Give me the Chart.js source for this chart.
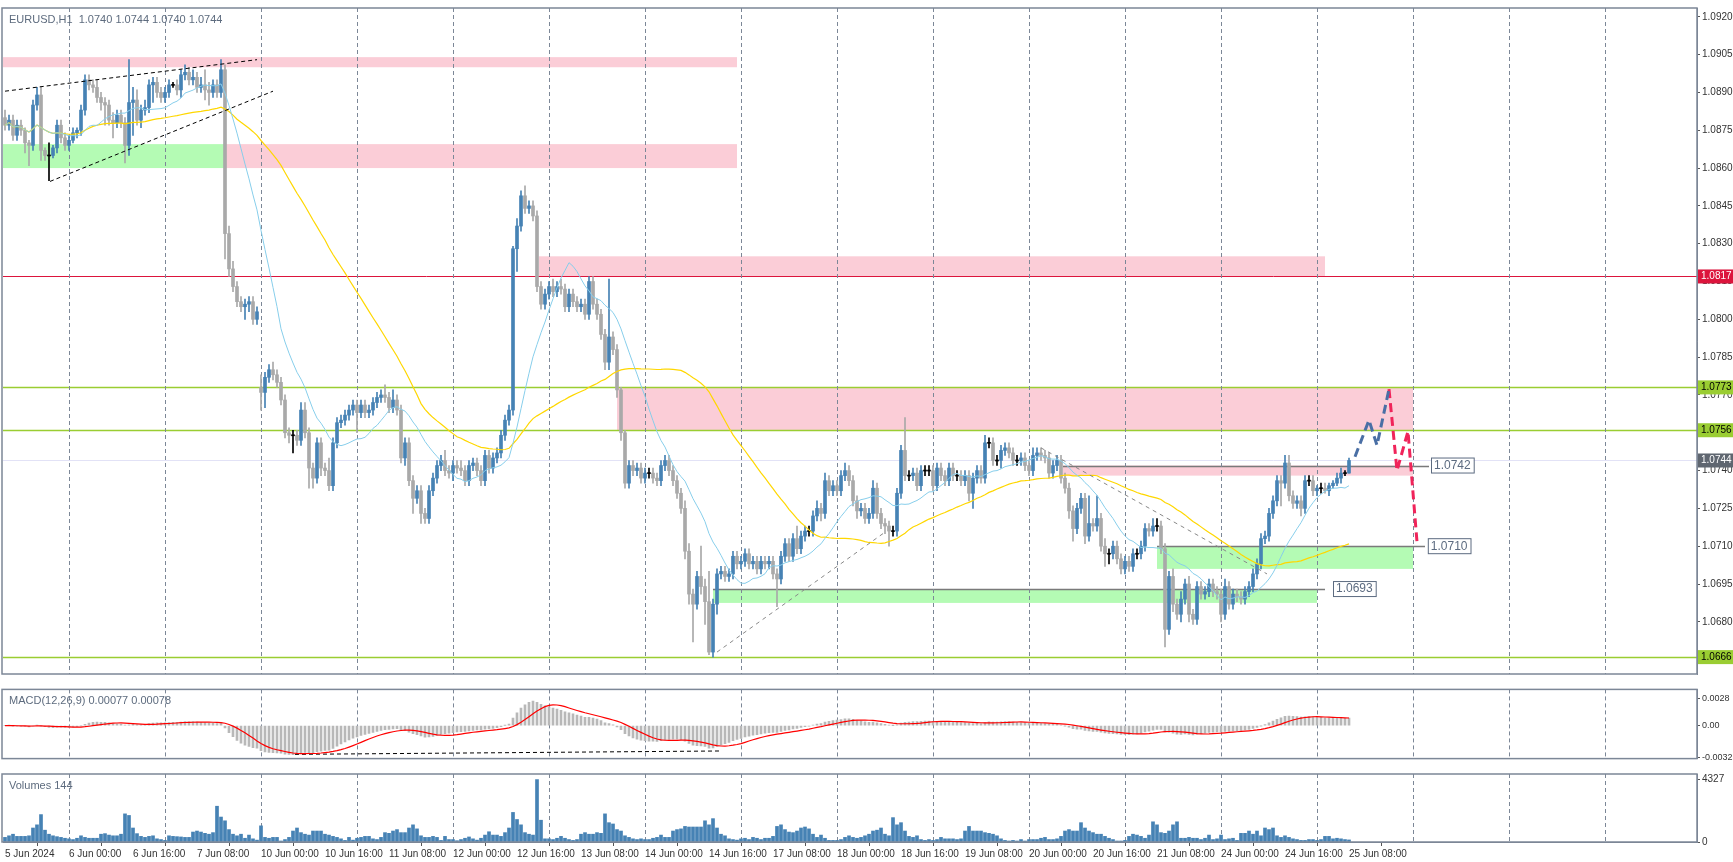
<!DOCTYPE html>
<html><head><meta charset="utf-8">
<script src="https://cdn.jsdelivr.net/npm/chart.js@4.4.1/dist/chart.umd.min.js"></script>
<style>
body{margin:0;background:#fff;width:1733px;height:862px;overflow:hidden;position:relative}
.p{position:absolute;left:0;width:1733px}
</style></head><body>
<div class="p" style="top:0;height:682px"><canvas id="main"></canvas></div>
<div class="p" style="top:682px;height:84px"><canvas id="macd"></canvas></div>
<div class="p" style="top:766px;height:96px"><canvas id="vol"></canvas></div>
<script>
// EURUSD H1, bar 0 = 6 Jun 00:00, prices in pips above 1.0000
const firstBar = -16

const closes = [
 877,879,873,877,875,870,869,885,889,867,865,865,868,877,872,869,
 871,874,875,883,895,893,892,888,886,885,879,878,881,878,869,886,887,879,883,884,893,894,890,888,
 890,893,893,891,897,898,895,896,892,893,891,890,893,890,899,834,820,813,807,805,806,807,800,803,
 771,777,780,778,775,768,755,754,754,752,764,755,741,737,751,741,740,734,751,759,760,762,764,766,
 763,766,763,764,767,769,770,769,765,768,764,745,751,736,729,732,723,721,732,737,742,744,740,739,
 742,741,740,736,742,743,740,736,746,741,745,747,754,760,764,828,837,849,844,845,841,813,806,810,
 813,811,813,812,805,810,807,805,806,802,815,806,802,794,783,793,788,772,755,735,742,740,741,737,
 739,739,737,736,742,744,740,736,731,725,708,691,687,698,694,688,668,687,699,700,698,699,706,703,
 704,707,703,704,701,704,703,704,699,697,706,711,706,713,709,714,716,716,722,725,723,736,732,734,
 732,738,740,736,728,724,725,721,723,733,723,719,718,716,716,731,748,738,738,739,734,740,740,740,
 734,741,738,736,741,738,738,736,738,731,737,740,737,751,751,744,744,748,749,747,744,744,745,742,
 740,746,747,746,745,739,742,744,737,733,724,717,725,729,714,719,718,721,710,707,707,710,705,701,
 704,702,707,707,710,717,716,718,718,709,677,698,687,683,689,695,683,681,694,691,692,695,692,691,
 683,694,687,691,690,689,692,694,699,703,713,714,723,728,736,735,743,730,727,728,725,736,736,732,
 733,733,732,734,735,737,739,739,744
]
const gapOpens = {48: 773}

const wickUp = [
 3,2,2,2,2,1,1,2,3,3,1,5,1,2,2,2,
 2,2,1,2,2,2,2,3,2,2,2,3,2,2,2,17,5,4,2,3,2,2,2,2,
 2,2,1,2,2,3,2,3,2,3,6,3,2,2,4,2,3,3,2,2,2,2,2,2,
 5,2,2,3,2,2,2,2,2,2,3,3,2,2,2,2,2,5,2,2,2,2,2,2,
 2,2,2,2,2,2,2,4,2,4,2,2,2,2,2,2,2,2,2,2,2,2,4,2,
 2,2,3,2,2,2,2,2,2,2,2,2,2,2,2,1,3,2,4,2,2,2,2,2,
 2,3,2,3,2,2,2,2,2,2,2,2,2,2,2,23,2,2,1,1,2,2,2,2,
 2,2,2,2,2,2,2,2,2,2,3,3,2,2,12,3,12,2,2,2,2,2,2,2,
 2,2,2,2,2,2,2,2,2,2,2,2,2,2,5,2,2,2,2,3,2,3,2,2,
 2,2,3,2,2,2,2,2,2,3,2,2,2,2,2,2,2,13,2,2,2,2,2,2,
 2,2,2,2,2,2,2,2,2,2,2,2,2,3,2,2,2,2,2,2,2,2,2,2,
 2,3,2,2,2,2,2,2,2,2,2,2,2,2,2,11,2,9,2,3,2,2,2,2,
 2,2,2,2,2,2,2,3,3,2,2,2,3,2,3,2,3,2,2,2,2,2,2,2,
 2,3,2,2,2,2,2,2,2,2,2,2,2,2,2,2,3,3,2,2,2,2,2,2,
 1,2,2,1,1,2,2,1,1
]
const wickDown = [
 2,2,2,2,2,4,8,2,2,4,2,10,1,2,2,2,
 2,1,2,2,2,2,2,2,3,8,2,6,2,2,7,4,13,2,3,2,2,7,2,2,
 2,2,1,2,3,2,2,2,2,2,4,5,2,2,2,10,3,2,2,2,5,3,2,2,
 7,6,2,2,2,2,2,3,7,2,2,2,8,4,2,3,2,2,2,2,2,2,2,2,
 8,2,2,2,2,2,2,2,2,2,2,2,3,2,6,2,4,2,2,2,2,2,2,2,
 3,2,2,2,2,2,2,2,2,2,2,2,2,2,2,2,9,2,2,2,2,2,2,2,
 2,2,2,2,2,2,2,2,2,2,2,2,2,2,3,3,2,3,3,2,2,2,2,2,
 2,2,2,2,2,2,2,2,2,2,3,4,15,2,3,9,1,2,4,2,2,2,2,2,
 2,2,2,2,2,2,2,2,2,11,2,2,2,2,2,2,2,2,2,2,3,2,2,2,
 2,2,2,2,2,3,2,2,2,2,2,2,3,6,2,2,2,2,2,2,2,2,2,2,
 2,2,2,2,2,2,2,2,2,3,6,2,2,2,2,2,2,3,2,2,2,2,2,2,
 2,2,2,2,2,2,2,2,2,2,3,5,2,2,3,2,2,2,2,5,4,2,2,2,
 2,2,2,2,2,2,2,2,2,2,7,2,3,2,3,2,3,2,2,2,2,2,2,2,
 3,2,2,2,2,2,2,2,2,2,2,2,2,2,2,9,2,2,2,2,3,2,2,2,
 2,2,1,2,1,1,2,1,0
]

const volumes = [
 320,430,540,390,390,390,430,970,1190,1900,820,540,430,370,320,260,
 220,170,260,430,320,260,260,260,540,580,480,430,430,540,1950,1840,970,580,390,320,390,430,220,170,
 110,430,390,370,350,320,320,690,760,690,600,540,650,2480,1730,1470,860,540,430,540,260,480,220,130,
 1120,320,260,320,320,70,170,320,760,970,650,540,480,760,760,760,540,480,390,320,220,110,320,130,
 260,320,390,390,220,170,320,650,600,760,860,650,650,970,1190,910,430,320,320,390,320,110,390,170,
 170,90,170,260,350,220,130,260,480,710,480,480,390,650,970,2050,1560,1190,650,540,480,4327,1510,220,
 220,170,260,390,260,170,110,170,540,650,540,540,650,600,1950,1340,1250,860,760,430,320,220,170,220,
 170,170,260,320,480,320,320,760,860,910,1080,1040,1040,1040,1040,1470,1190,1620,970,540,430,220,170,130,
 220,260,170,320,260,170,260,260,390,1080,1190,860,690,650,760,970,1040,910,540,320,480,260,110,110,
 110,170,320,430,320,260,320,430,540,760,820,970,540,430,1690,1190,1340,760,390,320,430,170,110,170,
 110,170,320,220,220,220,170,220,760,1080,760,760,760,650,600,540,430,220,110,70,110,70,170,70,
 170,170,170,260,320,170,170,220,390,760,860,760,760,1340,970,760,650,540,540,390,260,170,70,70,
 110,390,540,480,390,260,480,1400,1190,650,600,760,1190,1400,260,260,320,260,260,170,260,480,170,220,
 480,170,220,260,110,600,600,760,540,760,430,970,860,970,430,320,430,320,220,170,110,110,170,170,
 110,170,390,390,220,260,220,170,144
]

const tickLabels = ['5 Jun 2024','6 Jun 00:00','6 Jun 16:00','7 Jun 08:00','10 Jun 00:00','10 Jun 16:00',
 '11 Jun 08:00','12 Jun 00:00','12 Jun 16:00','13 Jun 08:00','14 Jun 00:00','14 Jun 16:00','17 Jun 08:00',
 '18 Jun 00:00','18 Jun 16:00','19 Jun 08:00','20 Jun 00:00','20 Jun 16:00','21 Jun 08:00','24 Jun 00:00',
 '24 Jun 16:00','25 Jun 08:00']
const priceTicks = [1.0920,1.0905,1.0890,1.0875,1.0860,1.0845,1.0830,1.0815,1.0800,1.0785,1.0770,1.0755,1.0740,1.0725,1.0710,1.0695,1.0680]

// drawn objects (pips / bar index)
const trendA = [{x:-16,y:890.5},{x:47,y:903}]
const trendB = [{x:-4.75,y:854.7},{x:51,y:890.5}]
const trendC = [{x:162,y:668},{x:203.5,y:715}]
const trendD = [{x:243,y:749},{x:299.5,y:699}]
const projUp = [{x:321.5,y:745.5},{x:325,y:760},{x:327,y:750},{x:330,y:772.3}]
const projDown = [{x:330,y:772.3},{x:332,y:740},{x:334.75,y:755.6},{x:337,y:711.7}]
const macdDiv = [{x:56.5,y:-0.00297},{x:163,y:-0.00262}]

const PINK = '#fbcdd7', GREEN = '#b4fbb4'
const zones = [
  {x0:-16.5,x1:167,lo:900,hi:904,c:PINK},
  {x0:-16.5,x1:39,lo:860,hi:869.5,c:GREEN},
  {x0:39,x1:167,lo:860,hi:869.5,c:PINK},
  {x0:117.5,x1:314,lo:817,hi:825,c:PINK},
  {x0:137,x1:336,lo:756,hi:773,c:PINK},
  {x0:248.5,x1:336,lo:738,hi:742,c:PINK},
  {x0:272,x1:336,lo:701,hi:710,c:GREEN},
  {x0:161,x1:312,lo:687.5,hi:693,c:GREEN}
]
const levels = [
  {p:817,c:'#dc143c',tag:'#dc143c',tc:'#fff'},
  {p:773,c:'#9acd32',tag:'#9acd32',tc:'#000'},
  {p:756,c:'#9acd32',tag:'#9acd32',tc:'#000'},
  {p:744,c:'#e2e2f6',tag:'#5f6670',tc:'#fff'},
  {p:666,c:'#9acd32',tag:'#9acd32',tc:'#000'}
]
const boxes = [
  {p:742,x0:248.5,x1:340,bx:340.5},
  {p:710,x0:272,x1:339,bx:339.7},
  {p:693,x0:161,x1:314,bx:316}
]

const px = p => 1 + p / 10000
const idx = closes.map((c, i) => firstBar + i)
const opens = closes.map((c, i) => gapOpens[idx[i]] ?? (i ? closes[i - 1] : 880))
const colorOf = i => closes[i] > opens[i] ? '#4682b4' : closes[i] < opens[i] ? '#a9a9a9' : '#000'

function sma(n) {
  return closes.map((c, i) => {
    const s = closes.slice(Math.max(0, i - n + 1), i + 1)
    return {x: idx[i], y: px(s.reduce((a, b) => a + b, 0) / s.length)}
  })
}
function ema(arr, n) {
  const k = 2 / (n + 1); let e = arr[0]
  return arr.map(v => (e = v * k + e * (1 - k)))
}
const cp = closes.map(px)
const e12 = ema(cp, 12), e26 = ema(cp, 26)
const macdVals = cp.map((v, i) => e12[i] - e26[i])
const signal = macdVals.map((v, i) => {
  const s = macdVals.slice(Math.max(0, i - 8), i + 1)
  return s.reduce((a, b) => a + b, 0) / s.length
})

const XMIN = -16.5, XMAX = 407
const FAM = '"Liberation Sans", Arial, sans-serif'
const FONT = {family: FAM, size: 10}
const fixW = s => { s.width = 36 }

const frame = {
  id: 'frame',
  beforeDatasetsDraw(ch) {
    const {ctx, chartArea: a, scales: {x}} = ch
    ctx.save()
    ctx.strokeStyle = '#7c8797'; ctx.lineWidth = 1; ctx.setLineDash([4, 3])
    for (let k = 0; k * 24 <= XMAX; k++) {
      const X = Math.round(x.getPixelForValue(k * 24)) + 0.5
      ctx.beginPath(); ctx.moveTo(X, a.top); ctx.lineTo(X, a.bottom); ctx.stroke()
    }
    ctx.restore()
  },
  afterDraw(ch, args, o) {
    const {ctx, chartArea: a} = ch
    ctx.save()
    ctx.strokeStyle = '#7c8797'; ctx.lineWidth = 1.5
    ctx.strokeRect(a.left - 1, a.top, a.right - a.left + 1, a.bottom - a.top)
    ctx.fillStyle = '#5d6b7e'; ctx.font = '11px ' + FAM
    ctx.textBaseline = 'top'
    ctx.fillText(o.title || '', 9, a.top + 6)
    ctx.restore()
  }
}

const overlay = {
  id: 'overlay',
  beforeDatasetsDraw(ch) {
    const {ctx, chartArea: a, scales: {x, y}} = ch
    ctx.save()
    zones.forEach(z => {
      const X0 = x.getPixelForValue(z.x0), X1 = x.getPixelForValue(z.x1)
      const Y0 = y.getPixelForValue(px(z.hi)), Y1 = y.getPixelForValue(px(z.lo))
      ctx.fillStyle = z.c; ctx.fillRect(X0, Y0, X1 - X0, Y1 - Y0)
    })
    levels.forEach(l => {
      const Y = Math.round(y.getPixelForValue(px(l.p))) + 0.5
      ctx.strokeStyle = l.c; ctx.lineWidth = l.c === '#9acd32' ? 1.5 : 1
      ctx.beginPath(); ctx.moveTo(a.left, Y); ctx.lineTo(a.right, Y); ctx.stroke()
    })
    boxes.forEach(b => {
      const Y = Math.round(y.getPixelForValue(px(b.p))) + 0.5
      ctx.strokeStyle = '#7a7a7a'; ctx.lineWidth = 1.5
      ctx.beginPath(); ctx.moveTo(x.getPixelForValue(b.x0), Y); ctx.lineTo(x.getPixelForValue(b.x1), Y); ctx.stroke()
    })
    ctx.restore()
  },
  afterDraw(ch) {
    const {ctx, chartArea: a, scales: {x, y}} = ch
    ctx.save()
    ctx.font = '12px ' + FAM; ctx.textBaseline = 'middle'
    boxes.forEach(b => {
      const Y = y.getPixelForValue(px(b.p)), X = x.getPixelForValue(b.bx)
      const t = px(b.p).toFixed(4), w = ctx.measureText(t).width + 6
      ctx.fillStyle = '#fff'; ctx.fillRect(X, Y - 8, w, 16)
      ctx.strokeStyle = '#5c6b80'; ctx.lineWidth = 1; ctx.strokeRect(X + 0.5, Y - 7.5, w, 15)
      ctx.fillStyle = '#5c6b80'; ctx.fillText(t, X + 3, Y)
    })
    ctx.font = '10px ' + FAM
    levels.forEach(l => {
      const Y = y.getPixelForValue(px(l.p))
      ctx.fillStyle = l.tag; ctx.fillRect(a.right + 1, Y - 7, 35, 14)
      ctx.fillStyle = l.tc; ctx.fillText(px(l.p).toFixed(4), a.right + 4, Y)
    })
    ctx.restore()
  }
}

const baseY = (ticks, fmt, size) => ({
  position: 'right', afterFit: fixW,
  afterBuildTicks: s => { s.ticks = ticks.map(v => ({value: v})) },
  ticks: {font: {family: FAM, size: size || 10}, color: '#333', padding: 2, callback: fmt},
  grid: {drawOnChartArea: false, tickLength: 3, color: '#555'},
  border: {color: '#7c8797'}
})
const hiddenX = () => ({type: 'linear', min: XMIN, max: XMAX, display: false, offset: false})
const pts = arr => arr.map(p => ({x: p.x, y: px(p.y)}))

new Chart(document.getElementById('main'), {
  type: 'bar',
  data: {datasets: [
    {data: closes.map((c, i) => ({x: idx[i], y: [px(Math.min(c, opens[i]) - wickDown[i]), px(Math.max(c, opens[i]) + wickUp[i])]})),
      backgroundColor: closes.map((c, i) => colorOf(i)), barThickness: 1, grouped: false, order: 3},
    {data: closes.map((c, i) => {
        const lo = Math.min(c, opens[i]), hi = Math.max(c, opens[i])
        return {x: idx[i], y: hi - lo < 0.4 ? [px(lo - 0.2), px(lo + 0.2)] : [px(lo), px(hi)]}
      }),
      backgroundColor: closes.map((c, i) => colorOf(i)), barThickness: 3, grouped: false, order: 2},
    {type: 'line', data: sma(15), borderColor: '#87ceeb', borderWidth: 1, pointRadius: 0, order: 1},
    {type: 'line', data: sma(50), borderColor: '#ffd700', borderWidth: 1.2, pointRadius: 0, order: 1},
    {type: 'line', data: pts(trendA), borderColor: '#000', borderWidth: 1, borderDash: [4, 3], pointRadius: 0},
    {type: 'line', data: pts(trendB), borderColor: '#000', borderWidth: 1, borderDash: [4, 3], pointRadius: 0},
    {type: 'line', data: pts(trendC), borderColor: '#888', borderWidth: 1, borderDash: [4, 4], pointRadius: 0},
    {type: 'line', data: pts(trendD), borderColor: '#888', borderWidth: 1, borderDash: [4, 4], pointRadius: 0},
    {type: 'line', data: pts(projUp), borderColor: '#4a6fa5', borderWidth: 3, borderDash: [9, 5], pointRadius: 0},
    {type: 'line', data: pts(projDown), borderColor: '#f0245a', borderWidth: 3, borderDash: [9, 5], pointRadius: 0}
  ]},
  options: {
    responsive: true, maintainAspectRatio: false, animation: false,
    layout: {padding: {left: 3, top: 1, bottom: 2}},
    plugins: {legend: {display: false}, tooltip: {enabled: false},
      frame: {title: 'EURUSD,H1  1.0740 1.0744 1.0740 1.0744'}},
    scales: {x: hiddenX(), y: {...baseY(priceTicks, v => v.toFixed(4)), min: 1.06593, max: 1.09235}}
  },
  plugins: [overlay, frame]
})

new Chart(document.getElementById('macd'), {
  type: 'bar',
  data: {datasets: [
    {type: 'line', data: signal.map((v, i) => ({x: idx[i], y: v})), borderColor: '#ff0000', borderWidth: 1.2, pointRadius: 0, order: 0},
    {type: 'line', data: macdDiv, borderColor: '#000', borderWidth: 1, borderDash: [4, 3], pointRadius: 0, order: 0},
    {data: macdVals.map((v, i) => ({x: idx[i], y: v})), backgroundColor: '#b8b8b8', barThickness: 2, grouped: false, order: 1}
  ]},
  options: {
    responsive: true, maintainAspectRatio: false, animation: false,
    layout: {padding: {left: 3, top: 1, bottom: 2}},
    plugins: {legend: {display: false}, tooltip: {enabled: false},
      frame: {title: 'MACD(12,26,9) 0.00077 0.00078'}},
    scales: {x: hiddenX(), y: {...baseY([0.0028, 0, -0.00325], v => v === 0 ? '0.00' : String(v), 9), min: -0.00341, max: 0.00376}}
  },
  plugins: [frame]
})

new Chart(document.getElementById('vol'), {
  type: 'bar',
  data: {datasets: [
    {data: volumes.map((v, i) => ({x: idx[i], y: v})), backgroundColor: '#4682b4', barThickness: 3, grouped: false}
  ]},
  options: {
    responsive: true, maintainAspectRatio: false, animation: false,
    layout: {padding: {left: 3, top: 1}},
    plugins: {legend: {display: false}, tooltip: {enabled: false}, frame: {title: 'Volumes 144'}},
    scales: {
      x: {type: 'linear', min: XMIN, max: XMAX, offset: false,
        afterBuildTicks: s => { s.ticks = tickLabels.map((t, i) => ({value: firstBar + 16 * i})) },
        ticks: {font: FONT, color: '#333', align: 'start', autoSkip: false, maxRotation: 0, padding: 2,
          callback: (v, i) => tickLabels[i]},
        grid: {drawOnChartArea: false, tickLength: 4, color: '#555'},
        border: {color: '#7c8797'}},
      y: {...baseY([4327, 0], v => String(v)), min: 0, max: 4714}
    }
  },
  plugins: [frame]
})
</script>
</body></html>
